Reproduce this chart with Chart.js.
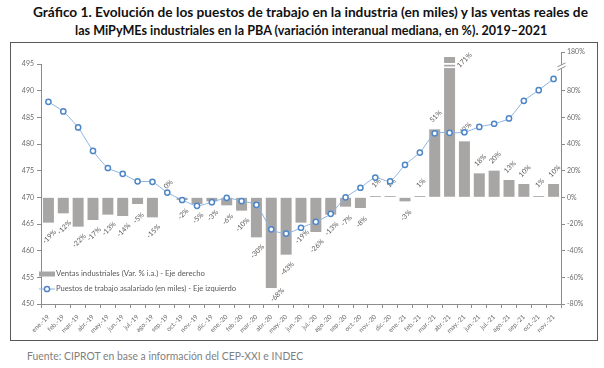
<!DOCTYPE html>
<html>
<head>
<meta charset="utf-8">
<script src="https://cdn.jsdelivr.net/npm/chart.js@4.4.0/dist/chart.umd.min.js"></script>
<style>
  body { margin: 0; background: #fff; width: 604px; height: 368px; position: relative; overflow: hidden; font-family: Lato, sans-serif; }
  .fit { position: absolute; white-space: nowrap; transform-origin: 0 50%; }
  .title { font-weight: bold; font-size: 14px; color: #111; }
  #src { font-size: 11px; color: #7f7f7f; }
  #frame { position: absolute; left: 10px; top: 42px; width: 586px; height: 297px; border: 1px solid #595959; }
</style>
</head>
<body>
<div id="t1" class="fit title" style="top:3px">Gráfico 1. Evolución de los puestos de trabajo en la industria (en miles) y las ventas reales de</div>
<div id="t2" class="fit title" style="top:21px">las MiPyMEs industriales en la PBA (variación interanual mediana, en %). 2019–2021</div>
<div id="frame"><canvas id="chart" width="586" height="297"></canvas></div>
<div id="src" class="fit" style="top:349px">Fuente: CIPROT en base a información del CEP-XXI e INDEC</div>

<script>
// Data
const months = ['ene.-19', 'feb.-19', 'mar.-19', 'abr.-19', 'may.-19', 'jun.-19', 'jul.-19', 'ago.-19', 'sep.-19', 'oct.-19', 'nov.-19', 'dic.-19',
  'ene.-20', 'feb.-20', 'mar.-20', 'abr.-20', 'may.-20', 'jun.-20', 'jul.-20', 'ago.-20', 'sep.-20', 'oct.-20', 'nov.-20', 'dic.-20',
  'ene.-21', 'feb.-21', 'mar.-21', 'abr.-21', 'may.-21', 'jun.-21', 'jul.-21', 'ago.-21', 'sep.-21', 'oct.-21', 'nov.-21'];

// Ventas industriales (var. % i.a.) - right axis
const ventas = [-19, -12, -22, -17, -13, -14, -5, -15, 0, -2, -5, -3,
  -6, -10, -30, -68, -43, -19, -26, -13, -7, -8, 1, 1,
  -3, 1, 51, 171, 42, 18, 20, 13, 10, 1, 10];

// Puestos de trabajo asalariado (en miles) - left axis
const puestos = [487.9, 486.1, 483.1, 478.7, 475.5, 474.4, 473.0, 472.9, 470.9, 469.5, 468.4, 469.1,
  469.9, 469.3, 468.6, 464.0, 463.2, 464.3, 465.4, 466.9, 470.0, 471.8, 473.7, 473.0,
  476.1, 478.4, 482.0, 482.1, 482.2, 483.2, 483.8, 484.8, 488.1, 490.1, 492.2];

const leftTicks = [450, 455, 460, 465, 470, 475, 480, 485, 490, 495];
const rightTicks = [-80, -60, -40, -20, 0, 20, 40, 60, 80, 109]; // top tick is the broken "180%"
const rightTopLabel = '180%';

const legendVentas = 'Ventas industriales (Var. % i.a.) - Eje derecho';
const legendPuestos = 'Puestos de trabajo asalariado (en miles) - Eje izquierdo';

// squeeze html text to the width it has in the picture
const fit = (id, x0, x1) => {
  const el = document.getElementById(id);
  el.style.left = x0 + 'px';
  el.style.transform = 'scaleX(' + ((x1 - x0) / el.offsetWidth) + ')';
};
fit('t1', 33, 588);
fit('t2', 75, 547);
fit('src', 27, 303);

const grey = '#6b6b6b';
const barColor = '#a8a5a5';
const smallFont = { family: 'Lato', size: 7 };

// value labels on the bars + the break in the tallest bar
const barLabels = {
  id: 'barLabels',
  afterDatasetDraw(chart, args) {
    if (args.index !== 0) return;
    const ctx = chart.ctx;
    const area = chart.chartArea;
    const yR = chart.scales.y1;
    const meta = chart.getDatasetMeta(0);
    ctx.save();
    ctx.font = '7px Lato';
    ctx.fillStyle = '#595959';
    ctx.textAlign = 'center';
    ctx.textBaseline = 'middle';
    meta.data.forEach((bar, i) => {
      const v = ventas[i];
      let x = bar.x + 1;
      let y = v < 0 ? bar.y + 14 : bar.y - 13;
      if (v > yR.max) {
        // broken bar: white cuts and label to the side
        ctx.fillStyle = '#fff';
        ctx.fillRect(bar.x - bar.width / 2 - 1, yR.getPixelForValue(100) - 1, bar.width + 2, 1.8);
        ctx.fillRect(bar.x - bar.width / 2 - 1, yR.getPixelForValue(97.4) - 1, bar.width + 2, 1.6);
        ctx.fillStyle = '#595959';
        y = area.top + 8;
        x = bar.x + 15;
      } else if (y + 8 > area.bottom) {
        y = area.bottom - 9;
        x = bar.x + 6;
      }
      ctx.save();
      ctx.translate(x, y);
      ctx.rotate(-Math.PI / 4);
      ctx.fillText(v + '%', 0, 0);
      ctx.restore();
    });
    ctx.restore();
  },
  afterDraw(chart) {
    const ctx = chart.ctx;
    const area = chart.chartArea;
    const yL = chart.scales.y;
    const yR = chart.scales.y1;
    ctx.save();
    // left axis line only from 450 to 495
    ctx.strokeStyle = '#8c8c8c';
    ctx.lineWidth = 1;
    ctx.beginPath();
    ctx.moveTo(area.left + 0.5, yL.getPixelForValue(495));
    ctx.lineTo(area.left + 0.5, area.bottom);
    ctx.stroke();
    // break mark on the right axis
    const bx = area.right + 0.5;
    const by = yR.getPixelForValue(97.5);
    ctx.fillStyle = '#fff';
    ctx.fillRect(bx - 3, by - 2.5, 6, 4);
    ctx.beginPath();
    ctx.moveTo(bx - 4, by - 0.5); ctx.lineTo(bx + 4, by - 4.5);
    ctx.moveTo(bx - 4, by + 3); ctx.lineTo(bx + 4, by - 1);
    ctx.stroke();

    // legend inside the plot
    const lx = area.left - 2;
    const ly1 = 231;
    const ly2 = 246;
    ctx.fillStyle = barColor;
    ctx.fillRect(lx, ly1 - 2.5, 16, 5);
    ctx.strokeStyle = '#8cb3e0';
    ctx.beginPath();
    ctx.moveTo(lx, ly2); ctx.lineTo(lx + 16, ly2);
    ctx.stroke();
    ctx.fillStyle = '#fff';
    ctx.strokeStyle = '#4e86c6';
    ctx.lineWidth = 1.5;
    ctx.beginPath();
    ctx.arc(lx + 8, ly2, 2.6, 0, Math.PI * 2);
    ctx.fill();
    ctx.stroke();

    ctx.font = '7.5px Lato';
    ctx.fillStyle = '#595959';
    ctx.textBaseline = 'middle';
    const drawFit = (text, x0, x1, y) => {
      const w = ctx.measureText(text).width;
      ctx.save();
      ctx.translate(x0, y);
      ctx.scale((x1 - x0) / w, 1);
      ctx.fillText(text, 0, 0);
      ctx.restore();
    };
    drawFit(legendVentas, lx + 17, 194, ly1);
    drawFit(legendPuestos, lx + 17, 225, ly2);
    ctx.restore();
  }
};

const chart = new Chart(document.getElementById('chart'), {
  type: 'bar',
  data: {
    labels: months,
    datasets: [{
      type: 'bar',
      label: legendVentas,
      data: ventas,
      yAxisID: 'y1',
      backgroundColor: barColor,
      categoryPercentage: 1,
      barPercentage: 0.74,
      clip: { left: 0, top: -5, right: 0, bottom: 0 },
      order: 2
    }, {
      type: 'line',
      label: legendPuestos,
      data: puestos,
      yAxisID: 'y',
      borderColor: '#8cb3e0',
      borderWidth: 1,
      tension: 0.2,
      pointRadius: 2.6,
      pointBorderWidth: 1.5,
      pointBorderColor: '#4e86c6',
      pointBackgroundColor: '#fff',
      order: 1
    }]
  },
  options: {
    responsive: false,
    animation: false,
    devicePixelRatio: 1,
    layout: { padding: { top: 9, left: 0, right: 0, bottom: 0 } },
    plugins: { legend: { display: false }, tooltip: { enabled: false } },
    scales: {
      x: {
        grid: { display: true, drawOnChartArea: false, tickLength: 4, color: '#8c8c8c', offset: true },
        border: { color: '#8c8c8c' },
        ticks: { font: { family: 'Lato', size: 6.5 }, color: grey, minRotation: 45, maxRotation: 45, autoSkip: false, padding: 5 },
        afterFit: s => { s.height = 36; }
      },
      y: {
        position: 'left',
        min: 450,
        max: 497.25,
        grid: { drawOnChartArea: false, tickLength: 4, color: '#8c8c8c' },
        border: { display: false },
        ticks: { font: smallFont, color: grey, padding: 3 },
        afterBuildTicks: s => { s.ticks = leftTicks.map(v => ({ value: v })); },
        afterFit: s => { s.width = 30; }
      },
      y1: {
        position: 'right',
        min: -80,
        max: 109,
        grid: { drawOnChartArea: false, tickLength: 4, color: '#8c8c8c' },
        border: { color: '#8c8c8c' },
        ticks: { font: smallFont, color: grey, padding: 2, callback: v => v > 100 ? rightTopLabel : v + '%' },
        afterBuildTicks: s => { s.ticks = rightTicks.map(v => ({ value: v })); },
        afterFit: s => { s.width = 36; }
      }
    }
  },
  plugins: [barLabels]
});
</script>
</body>
</html>
